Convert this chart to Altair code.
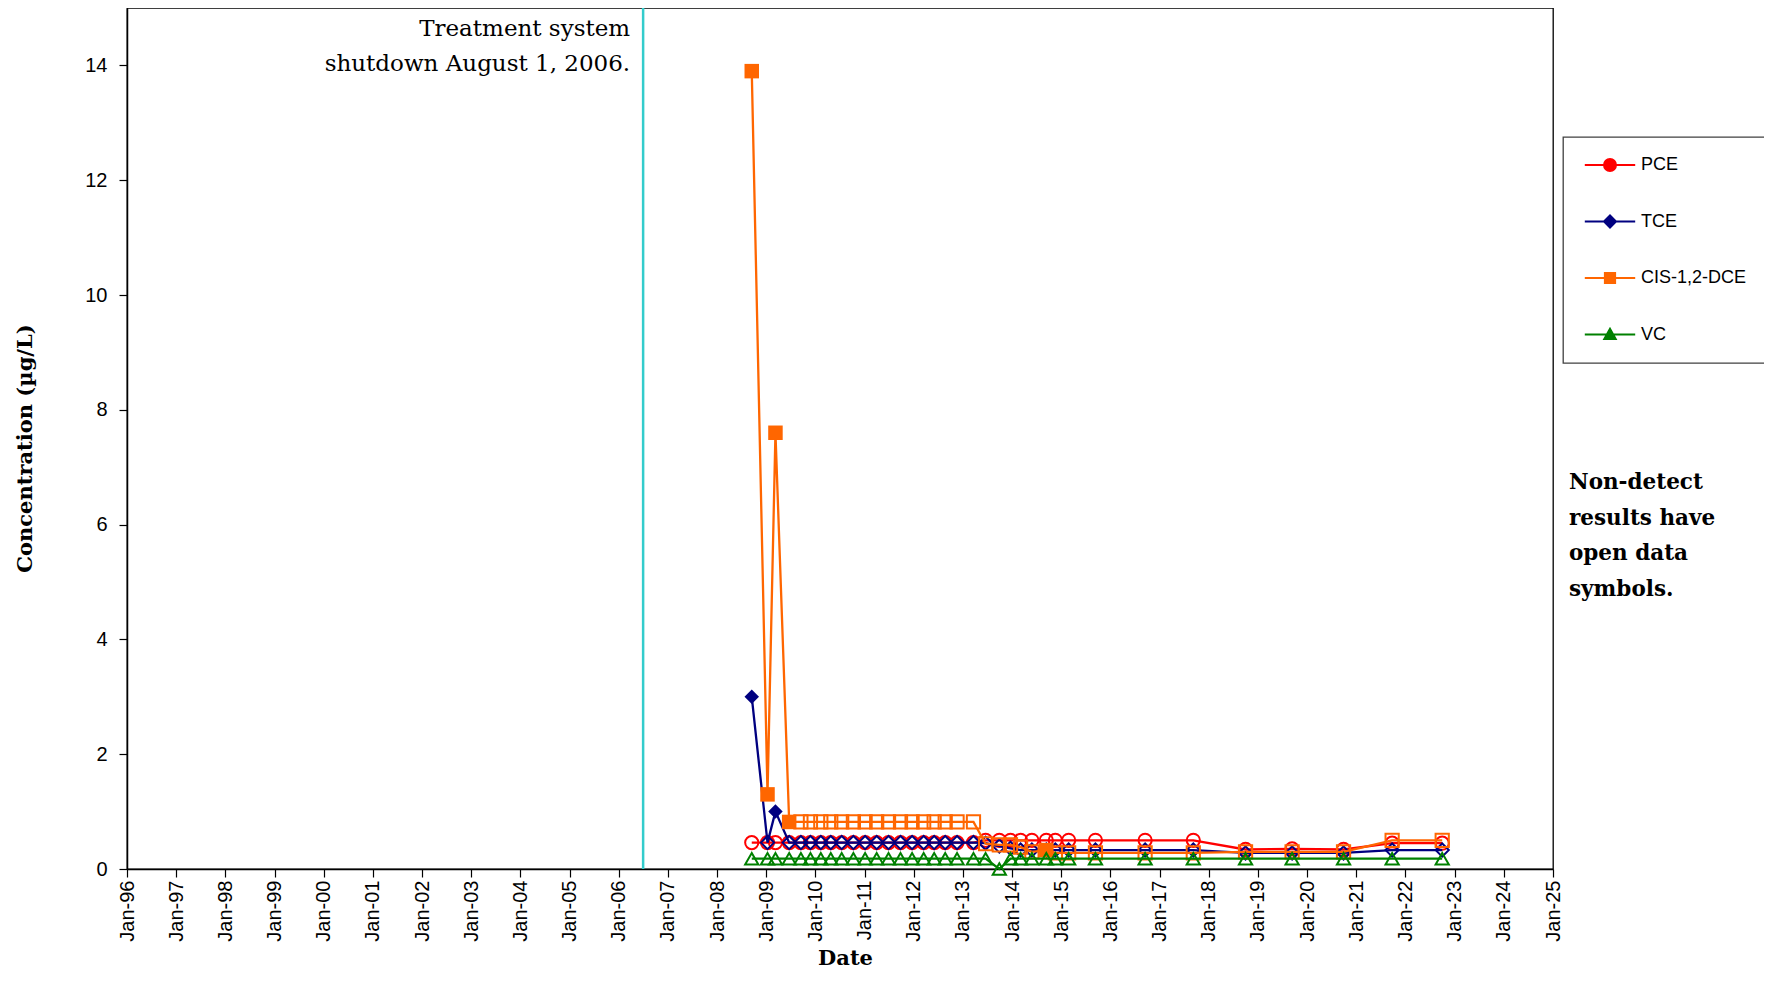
import altair as alt
import pandas as pd

# ---------------- data ----------------
series_names = ["PCE", "TCE", "CIS-1,2-DCE", "VC"]
series_colors = ["#FF0000", "#000080", "#FF6600", "#008000"]
series_shapes = ["circle", "diamond", "square", "triangle-up"]

sample_dates = [
    "2008-09-15", "2009-01-10", "2009-03-10", "2009-06-20", "2009-09-15",
    "2009-11-25", "2010-02-10", "2010-04-25", "2010-07-15", "2010-10-10",
    "2011-01-05", "2011-04-01", "2011-06-28", "2011-09-25", "2011-12-20",
    "2012-03-15", "2012-06-01", "2012-08-22", "2012-11-18", "2013-03-20",
    "2013-06-18", "2013-09-28", "2013-12-20", "2014-03-05", "2014-05-28",
    "2014-09-12", "2014-11-18", "2015-02-25", "2015-09-12", "2016-09-15",
    "2017-09-08", "2018-10-01", "2019-09-12", "2020-09-28", "2021-09-24",
    "2022-10-01",
]

pce_values = [0.46] * 20 + [0.5] * 11 + [0.34, 0.35, 0.34, 0.45, 0.45]
pce_detected = [0] * 36

tce_values = [3.0, 0.46, 1.0] + [0.46] * 17 + [0.45, 0.40, 0.36] + [0.33] * 8 + [0.28, 0.28, 0.28, 0.33, 0.33]
tce_detected = [1, 0, 1] + [0] * 33

dce_values = [13.9, 1.3, 7.6, 0.82] + [0.82] * 16 + [0.44, 0.42, 0.42, 0.38, 0.30, 0.33] + [0.28] * 5 + [0.30, 0.30, 0.30, 0.5, 0.5]
dce_detected = [1, 1, 1, 1] + [0] * 21 + [1] + [0] * 10

vc_values = [0.18] * 21 + [0.0] + [0.18] * 14
vc_detected = [0] * 36

shutdown_date = ["2006-07-01"]
shutdown_label = ["Treatment system\nshutdown August 1, 2006."]
note_text = ["Non-detect\nresults have\nopen data\nsymbols."]

year_ticks = list(range(1996, 2026))
y_ticks = [0, 2, 4, 6, 8, 10, 12, 14]

# ---------------- table ----------------
rows = []
for name, vals, dets in [
    ("PCE", pce_values, pce_detected),
    ("TCE", tce_values, tce_detected),
    ("CIS-1,2-DCE", dce_values, dce_detected),
    ("VC", vc_values, vc_detected),
]:
    for d, v, det in zip(sample_dates, vals, dets):
        rows.append({"series": name, "date": d, "value": v, "detected": det})
df = pd.DataFrame(rows)

x_enc = alt.X(
    "date:T",
    scale=alt.Scale(
        type="utc",
        domain=[alt.DateTime(year=1996, month=1, date=1, utc=True),
                alt.DateTime(year=2025, month=1, date=1, utc=True)],
    ),
    axis=alt.Axis(
        values=[alt.DateTime(year=yy, month=1, date=1, utc=True) for yy in year_ticks],
        format="%b-%y", labelAngle=270, tickSize=8, labelPadding=3,
        titleY=89, titleBaseline="middle", titleX=718,
    ),
    title="Date",
)
y_enc = alt.Y(
    "value:Q",
    scale=alt.Scale(domain=[0, 15], nice=False, zero=True),
    axis=alt.Axis(values=y_ticks, tickSize=8, labelPadding=12, titleAngle=270,
                  titleX=-102, titleY=440, titleBaseline="middle", titleAlign="center"),
    title="Concentration (µg/L)",
)

base = alt.Chart(df)
layers = []

shut_df = pd.DataFrame({"date": shutdown_date, "label": shutdown_label})
layers.append(alt.Chart(shut_df).mark_rule(color="#33CCCC", strokeWidth=2.5).encode(x=x_enc))
layers.append(
    alt.Chart(shut_df).mark_text(
        align="right", baseline="alphabetic", dx=-13, font="DejaVu Serif",
        fontSize=23, lineBreak="\n", lineHeight=35, color="black",
    ).encode(x=x_enc, y=alt.value(28), text="label:N")
)

for name, color, shape in zip(series_names, series_colors, series_shapes):
    sub = base.transform_filter(alt.datum.series == name)
    layers.append(sub.mark_line(color=color, strokeWidth=2.3).encode(x=x_enc, y=y_enc))
    layers.append(
        sub.transform_filter(alt.datum.detected == 0).mark_point(
            shape=shape, filled=False, color=color, size=175, strokeWidth=2, opacity=1
        ).encode(x=x_enc, y=y_enc)
    )
    layers.append(
        sub.transform_filter(alt.datum.detected == 1).mark_point(
            shape=shape, filled=True, color=color, size=210, strokeWidth=1, opacity=1
        ).encode(x=x_enc, y=y_enc)
    )

# legend symbols: line with marker (unit box -1..1 is the marker)
legend_paths = [
    "M-4.2,0L-1,0M1,0L4.2,0M-1,0A1,1 0 1,0 1,0A1,1 0 1,0 -1,0Z",
    "M-4.2,0L-1,0M1,0L4.2,0M-1,0L0,-1L1,0L0,1Z",
    "M-4.2,0L-0.85,0M0.85,0L4.2,0M-0.85,-0.85L0.85,-0.85L0.85,0.85L-0.85,0.85Z",
    "M-4.2,0L4.2,0M-0.95,0.75L0,-0.95L0.95,0.75Z",
]
leg = alt.Legend(
    title=None, orient="none", legendX=1436, legendY=129, padding=19,
    rowPadding=36.5, symbolSize=144, symbolStrokeWidth=2, symbolOffset=19,
    labelOffset=22, labelFont="Liberation Sans", labelFontSize=18, labelColor="black",
    labelLimit=1000, labelExpr="datum.label + '                         '",
    strokeColor="#404040", fillColor="white", cornerRadius=0,
)
legend_df = pd.DataFrame({"series": series_names})
layers.append(
    alt.Chart(legend_df).mark_point(filled=True, opacity=1, strokeWidth=2).encode(
        fill=alt.Fill("series:N", scale=alt.Scale(domain=series_names, range=series_colors), legend=leg),
        stroke=alt.Stroke("series:N", scale=alt.Scale(domain=series_names, range=series_colors), legend=leg),
        shape=alt.Shape("series:N", scale=alt.Scale(domain=series_names, range=legend_paths), legend=leg),
    ).transform_filter("false")
)

note_df = pd.DataFrame({"note": note_text})
layers.append(
    alt.Chart(note_df).mark_text(
        align="left", baseline="alphabetic", font="DejaVu Serif", fontWeight="bold",
        fontSize=21.5, lineBreak="\n", lineHeight=35.6, color="black",
    ).encode(x=alt.value(1442), y=alt.value(481), text="note:N")
)

chart = alt.layer(*layers).properties(
    width=1426, height=861,
    padding={"left": 119, "top": 0, "right": 211, "bottom": 104},
    autosize=alt.AutoSizeParams(type="none"),
    background="white",
).configure_view(
    stroke="black", strokeWidth=1.3
).configure_axis(
    grid=False, domainColor="black", domainWidth=1.5, tickColor="black", tickWidth=1.2,
    labelColor="black", titleColor="black", labelFont="Liberation Sans", labelFontSize=20,
    titleFont="DejaVu Serif", titleFontWeight="bold", titleFontSize=21,
).configure_legend(strokeWidth=1.3)

chart.save("out.html", embed_options={"renderer": "svg", "actions": False})
